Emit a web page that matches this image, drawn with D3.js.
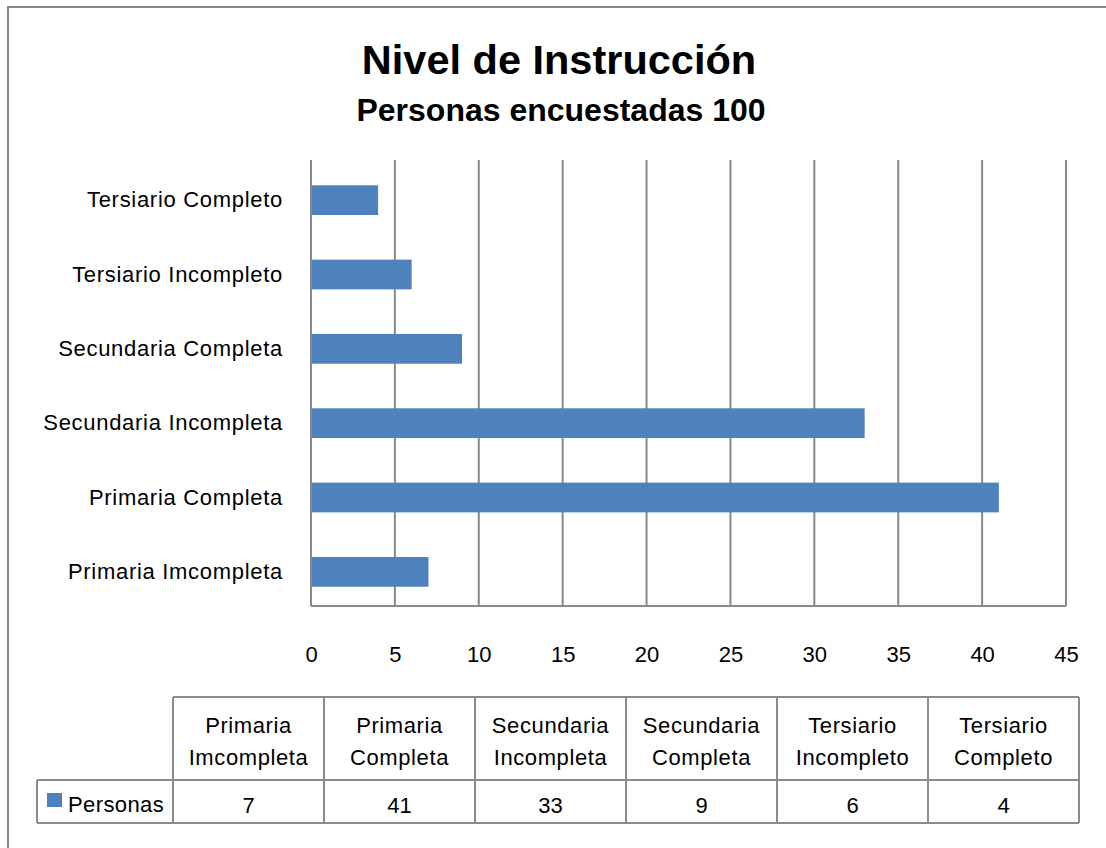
<!DOCTYPE html>
<html>
<head>
<meta charset="utf-8">
<script src="https://cdn.jsdelivr.net/npm/d3@7"></script>
<style>
  html, body { margin: 0; padding: 0; background: #fff; }
  svg { display: block; }
  text { font-family: "Liberation Sans", Arial, sans-serif; fill: #000; }
</style>
</head>
<body>
<svg id="chart" width="1106" height="848"></svg>
<script>
// ---- data ----
const categories = [
  "Primaria Imcompleta",
  "Primaria Completa",
  "Secundaria Incompleta",
  "Secundaria Completa",
  "Tersiario Incompleto",
  "Tersiario Completo"
];
const tableHeaders = [
  ["Primaria", "Imcompleta"],
  ["Primaria", "Completa"],
  ["Secundaria", "Incompleta"],
  ["Secundaria", "Completa"],
  ["Tersiario", "Incompleto"],
  ["Tersiario", "Completo"]
];
const values = [7, 41, 33, 9, 6, 4];
const xTicks = [0, 5, 10, 15, 20, 25, 30, 35, 40, 45];
const seriesName = "Personas";
const titleText = "Nivel de Instrucción";
const subtitleText = "Personas encuestadas 100";

// ---- styles ----
const barColor = "#4F81BD";
const gridColor = "#898989";
const lineColor = "#8c8c8c";

const svg = d3.select("#chart");

// outer chart border (extends beyond right/bottom edges)
svg.append("rect")
  .attr("x", 8).attr("y", 7)
  .attr("width", 1120).attr("height", 870)
  .attr("fill", "#fff")
  .attr("stroke", "#878787").attr("stroke-width", 2);

// titles
svg.append("text")
  .attr("x", 559).attr("y", 74)
  .attr("text-anchor", "middle")
  .style("font-weight", "bold").style("font-size", "41.5px")
  .text(titleText);
svg.append("text")
  .attr("x", 561).attr("y", 121)
  .attr("text-anchor", "middle")
  .style("font-weight", "bold").style("font-size", "32px")
  .text(subtitleText);

// scales
const plotLeft = 311, plotRight = 1066, plotTop = 160, plotBottom = 606;
const x = d3.scaleLinear().domain([0, 45]).range([plotLeft, plotRight]);
const y = d3.scaleBand()
  .domain(categories.slice().reverse())
  .range([plotTop + 3, plotBottom + 3])
  .paddingInner(0.6).paddingOuter(0.3);

// gridlines
svg.append("g").selectAll("line")
  .data(xTicks)
  .join("line")
  .attr("x1", d => x(d)).attr("x2", d => x(d))
  .attr("y1", plotTop).attr("y2", plotBottom)
  .attr("stroke", gridColor).attr("stroke-width", 2);

// bottom axis line
svg.append("line")
  .attr("x1", plotLeft).attr("x2", plotRight)
  .attr("y1", plotBottom).attr("y2", plotBottom)
  .attr("stroke", gridColor).attr("stroke-width", 2);

// bars
svg.append("g").selectAll("rect")
  .data(categories.map((c, i) => ({ c, v: values[i] })))
  .join("rect")
  .attr("x", x(0) + 1)
  .attr("y", d => y(d.c))
  .attr("width", d => x(d.v) - x(0) - 1)
  .attr("height", y.bandwidth())
  .attr("fill", barColor);

// category labels via axis
const yAxis = svg.append("g")
  .attr("transform", `translate(${plotLeft},0)`)
  .call(d3.axisLeft(y).tickSize(0).tickPadding(28));
yAxis.select(".domain").remove();
yAxis.selectAll("text")
  .style("font-family", '"Liberation Sans", Arial, sans-serif')
  .style("font-size", "22px")
  .style("letter-spacing", "0.7px")
  .attr("fill", "#000");

// x tick labels via axis
const xAxis = svg.append("g")
  .attr("transform", `translate(0,${plotBottom})`)
  .call(d3.axisBottom(x).tickValues(xTicks).tickSize(0).tickPadding(40));
xAxis.select(".domain").remove();
xAxis.selectAll("text")
  .style("font-family", '"Liberation Sans", Arial, sans-serif')
  .style("font-size", "22px")
  .attr("fill", "#000");

// ---- data table ----
const tLeft = 173, tRight = 1079, tTop = 697, tMid = 780, tBottom = 823, legLeft = 37;
const col = d3.scaleBand().domain(categories).range([tLeft, tRight]);
const tg = svg.append("g");

// horizontal lines
tg.append("line").attr("x1", tLeft).attr("x2", tRight).attr("y1", tTop).attr("y2", tTop);
tg.append("line").attr("x1", legLeft).attr("x2", tRight).attr("y1", tMid).attr("y2", tMid);
tg.append("line").attr("x1", legLeft).attr("x2", tRight).attr("y1", tBottom).attr("y2", tBottom);
// vertical lines
tg.append("line").attr("x1", legLeft).attr("x2", legLeft).attr("y1", tMid).attr("y2", tBottom);
const vx = categories.map(c => col(c)).concat([tRight]);
tg.selectAll("line.v").data(vx).join("line").attr("class", "v")
  .attr("x1", d => d).attr("x2", d => d).attr("y1", tTop).attr("y2", tBottom);
tg.selectAll("line").attr("stroke", lineColor).attr("stroke-width", 2);

// header texts
const hdr = tg.selectAll("text.h").data(categories.map((c, i) => ({ c, lines: tableHeaders[i] })))
  .join("text").attr("class", "h")
  .attr("text-anchor", "middle")
  .style("font-size", "22px")
  .style("letter-spacing", "0.6px");
hdr.selectAll("tspan").data(d => d.lines.map(l => ({ l, c: d.c })))
  .join("tspan")
  .attr("x", d => col(d.c) + col.bandwidth() / 2)
  .attr("y", (d, i) => 733 + i * 32)
  .text(d => d.l);

// values row
tg.selectAll("text.v").data(categories.map((c, i) => ({ c, v: values[i] })))
  .join("text").attr("class", "v")
  .attr("x", d => col(d.c) + col.bandwidth() / 2)
  .attr("y", 813)
  .attr("text-anchor", "middle")
  .style("font-size", "22px")
  .text(d => d.v);

// legend key
tg.append("rect").attr("x", 47).attr("y", 793).attr("width", 15).attr("height", 14).attr("fill", barColor);
tg.append("text").attr("x", 68).attr("y", 812)
  .style("font-size", "22px").style("letter-spacing", "0.4px")
  .text(seriesName);
</script>
</body>
</html>
